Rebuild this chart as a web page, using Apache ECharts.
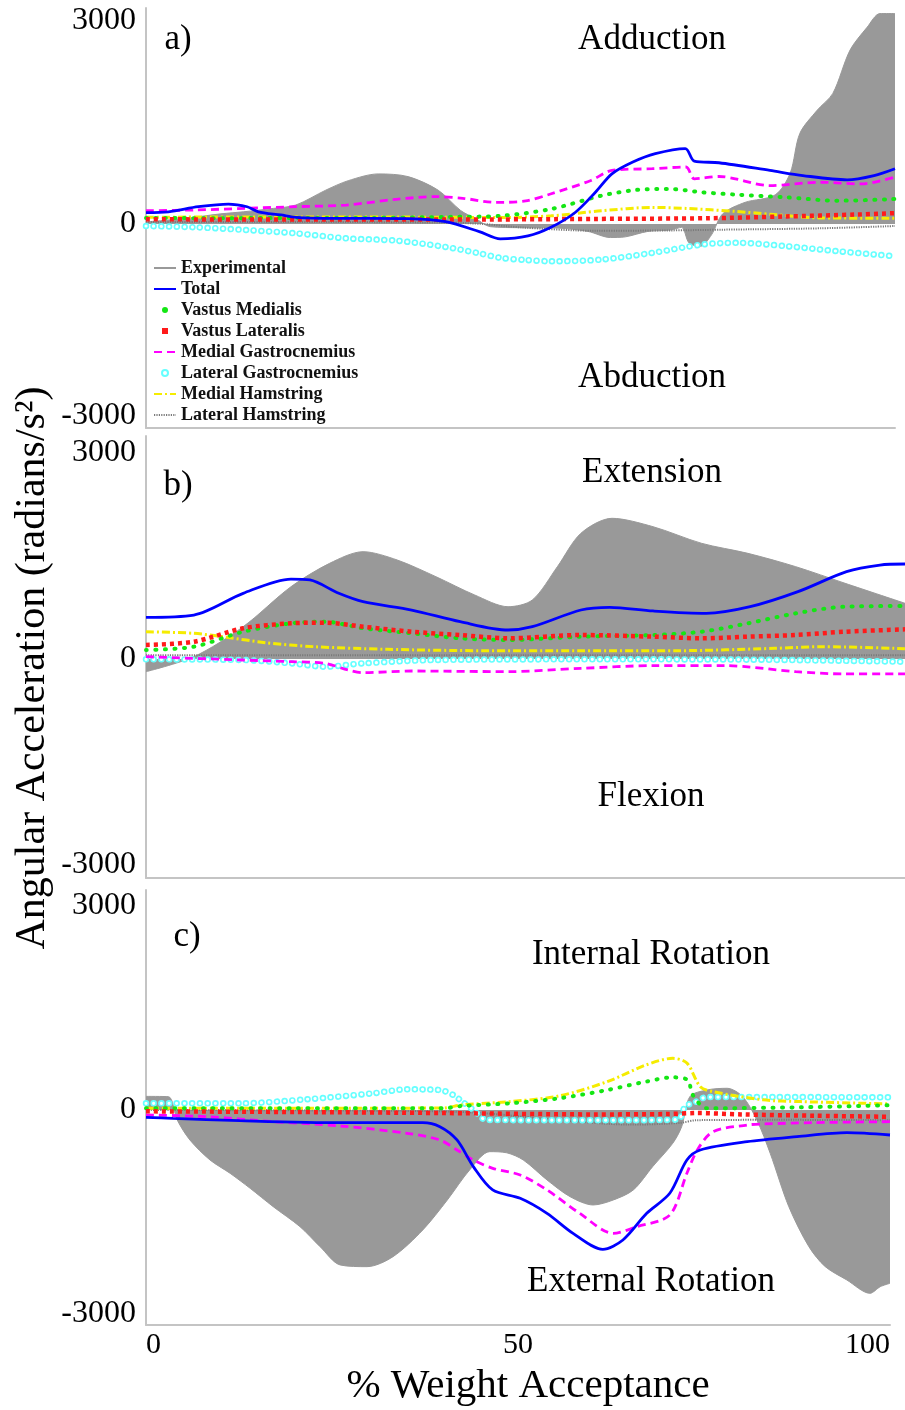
<!DOCTYPE html>
<html>
<head>
<meta charset="utf-8">
<script src="https://cdn.jsdelivr.net/npm/echarts@6/dist/echarts.min.js"></script>
<style>
  html, body { margin: 0; padding: 0; background: #ffffff; }
  #chart { width: 905px; height: 1410px; }
</style>
</head>
<body>
<div id="chart"></div>
<script>
// ---- tick labels and series names ----
const X_TICKS = [0, 50, 100];
const Y_TICKS = [-3000, 0, 3000];
const SERIES_NAMES = ['Experimental', 'Total', 'Vastus Medialis', 'Vastus Lateralis',
  'Medial Gastrocnemius', 'Lateral Gastrocnemius', 'Medial Hamstring', 'Lateral Hamstring'];

// ---- a) adduction / abduction : [% weight acceptance, rad/s^2] ----
const adductionExperimental = [[0,30],[5,80],[10,150],[13,180],[17,230],[20,280],[24,500],[27,640],[31,740],[35,700],[39,500],[42,200],[44,80],[46,-40],[50,-55],[55,-60],[59,-110],[62,-200],[64,-190],[67,-110],[70,-90],[71.5,-50],[72.5,-280],[74,-330],[75.5,-160],[77,150],[80,320],[84,430],[86,750],[87.3,1340],[89.6,1680],[91.7,1930],[94,2570],[96.3,2910],[98,3110],[100,3110]];
const adductionTotal = [[0,167],[3,180],[7,255],[11,295],[13.5,255],[15,180],[18,133],[20,99],[25,84],[30,84],[35,80],[40,35],[44.5,-113],[47.3,-220],[51,-177],[54,-53],[57.3,170],[60,468],[62.2,741],[65,916],[68,1040],[72,1115],[73.2,930],[76.5,905],[83.3,792],[87.7,716],[93.6,653],[97.2,716],[100,817]];
const adductionVM = [[0,90],[10,85],[20,90],[30,90],[40.6,105],[47.3,120],[54.1,222],[60.8,418],[65.3,502],[69.8,518],[74.3,468],[78.8,434],[85.5,394],[92.3,344],[100,369]];
const adductionVL = [[0,70],[20,65],[40,65],[60,75],[75,85],[85,110],[95,140],[100,160]];
const adductionMG = [[0,197],[6.7,207],[13.4,232],[20,256],[26.7,280],[33.4,365],[38.7,404],[42.3,380],[46.7,319],[50.7,340],[54,443],[59.4,643],[62.2,792],[67.6,817],[72.1,842],[73.2,668],[76.5,702],[83.3,567],[90,617],[95.5,592],[100,694]];
const adductionLG = [[0,-30],[6.7,-49],[13.4,-89],[20,-138],[26.7,-212],[33.4,-246],[40,-340],[44.5,-433],[47.3,-500],[50.7,-532],[54.1,-551],[60.8,-526],[67.6,-427],[74.3,-303],[78.8,-278],[85.5,-328],[92.3,-402],[100,-477]];
const adductionMH = [[0,100],[20,105],[40,100],[47.3,95],[54.1,120],[60.8,195],[67.6,245],[72.1,230],[78.8,185],[83.3,145],[90,90],[100,85]];
const adductionLH = [[0,30],[20,30],[40,20],[45,0],[50,-50],[60,-100],[70,-95],[77,-84],[90,-64],[100,-30]];

// ---- b) extension / flexion ----
const extensionExperimental = [[0,-185],[6.3,33],[12.8,470],[19.1,1052],[24.2,1393],[28.6,1562],[33.1,1441],[38.2,1198],[43.3,932],[47.7,761],[50.9,859],[54.2,1344],[57.3,1830],[61.4,2048],[66.8,1926],[73.2,1684],[79.3,1538],[85.6,1344],[92.1,1102],[100,811]];
const extensionTotal = [[0,607],[6.3,640],[12.8,956],[19.1,1164],[21.6,1150],[25.4,956],[28.6,834],[35,713],[41.4,543],[47.7,422],[50.9,470],[57.3,713],[61.1,752],[66.8,699],[73.8,665],[79.6,761],[85.9,980],[92.3,1271],[96.7,1368],[100,1383]];
const extensionVM = [[0,131],[6.3,179],[12.8,397],[19.1,519],[23.6,543],[28.6,447],[35,374],[41.4,301],[47.7,277],[57.3,325],[66.8,349],[73.2,397],[79.3,519],[85.6,665],[92.1,761],[100,771]];
const extensionVL = [[0,204],[6.3,252],[12.8,447],[19.1,519],[23.6,528],[28.6,470],[35,397],[41.4,349],[47.7,301],[57.3,349],[66.8,325],[73.2,301],[79.3,325],[85.6,349],[92.1,397],[100,432]];
const extensionMG = [[0,33],[12.8,-15],[19.1,-39],[23.6,-63],[26.6,-160],[28.6,-199],[35,-175],[47.7,-184],[57.3,-136],[66.8,-97],[76.3,-97],[85.6,-184],[92.1,-218],[100,-218]];
const extensionLG = [[0,-5],[12.8,-15],[19.1,-63],[23.6,-112],[28.6,-63],[38.2,-15],[60,-5],[80,-10],[100,-40]];
const extensionMH = [[0,397],[6.3,374],[10.6,316],[15.8,237],[22.2,179],[31.8,141],[44.5,121],[57.3,121],[70,121],[82.8,155],[89.1,179],[100,150]];
const extensionLH = [[0,55],[25,55],[50,55],[75,55],[100,55]];

// ---- c) internal / external rotation ----
const rotationExperimental = [[0,200],[3,196],[4.2,-147],[5.9,-441],[8.6,-735],[11.3,-931],[14,-1152],[17.1,-1422],[20.7,-1716],[23.4,-2010],[26.1,-2279],[29.7,-2304],[33.2,-2157],[37.2,-1765],[40.5,-1324],[43.5,-882],[46.2,-613],[48.5,-630],[50.7,-735],[53.9,-1029],[57,-1275],[60.1,-1397],[62.8,-1324],[65.5,-1176],[68.1,-833],[70.8,-490],[72,-245],[73.1,196],[75.4,294],[78.1,319],[80.2,196],[82.1,-147],[83.9,-637],[86.4,-1422],[89.1,-2010],[91.3,-2304],[94.2,-2500],[97.3,-2696],[98.7,-2598],[100,-2549]];
const rotationTotal = [[0,-108],[3.6,-123],[12.6,-157],[26.1,-186],[37.2,-186],[39.5,-245],[41.8,-441],[44,-833],[46.6,-1176],[50.3,-1299],[53.9,-1520],[57.4,-1814],[61.4,-2049],[64.1,-1912],[67.3,-1520],[70.4,-1225],[72.7,-735],[74.5,-588],[80.8,-466],[87.5,-392],[94.2,-333],[100,-368]];
const rotationVM = [[0,25],[20,25],[40,25],[42.4,59],[48.9,98],[55.5,172],[62,294],[67.2,417],[70.8,480],[72.8,441],[73.5,220],[75.4,25],[88,40],[100,70]];
const rotationVL = [[0,-20],[20,-30],[40,-45],[60,-65],[70,-60],[74,-45],[80,-65],[90,-85],[100,-100]];
const rotationMG = [[0,-74],[8.2,-98],[17.1,-172],[26.1,-235],[35.1,-343],[39.5,-441],[41.8,-588],[44,-735],[46.6,-858],[50.3,-956],[53.9,-1176],[58.3,-1520],[62.8,-1814],[66,-1716],[70.4,-1544],[72.7,-931],[74.1,-588],[76.2,-319],[80.8,-221],[82.9,-206],[89.7,-186],[100,-172]];
const rotationLG = [[0,98],[12.6,98],[21.6,157],[30.5,245],[35.1,304],[39.5,294],[41.3,220],[42.5,123],[44,0],[45.8,-147],[55,-150],[65,-150],[71.5,-140],[72.5,60],[73.5,98],[75.4,190],[85,190],[100,186]];
const rotationMH = [[0,25],[20,25],[40,30],[42.4,74],[48.9,123],[55.5,206],[62,417],[67.2,662],[70.8,760],[72.7,690],[74.5,343],[76.2,270],[82.9,150],[88,123],[100,90]];
const rotationLH = [[0,0],[20,-5],[40,-20],[45.7,-50],[55.5,-147],[65.2,-215],[71.8,-190],[74,-150],[85,-145],[100,-150]];

// ---- panel layout ----
const SERIF = "'Liberation Serif', 'Times New Roman', serif";
const AXIS_GRAY = '#c4c4c4';
const panels = [
  { top: 8,   height: 420, right: 10, min: -3015, max: 3192,
    data: [adductionExperimental, adductionTotal, adductionVM, adductionVL, adductionMG, adductionLG, adductionMH, adductionLH] },
  { top: 436, height: 442, right: 0,  min: -3188, max: 3246,
    data: [extensionExperimental, extensionTotal, extensionVM, extensionVL, extensionMG, extensionLG, extensionMH, extensionLH] },
  { top: 890, height: 435, right: 15, min: -3162, max: 3235,
    data: [rotationExperimental, rotationTotal, rotationVM, rotationVL, rotationMG, rotationLG, rotationMH, rotationLH] }
];

// line look of each muscle trace
const STYLE = {
  'Experimental':          { color: '#999999', width: 1, type: 'solid', area: true },
  'Total':                 { color: '#0000ff', width: 2.8, type: 'solid' },
  'Vastus Medialis':       { color: '#14e614', width: 4, type: [1, 8.5], cap: 'round' },
  'Vastus Lateralis':      { color: '#ff1a1a', width: 4.5, type: [4, 4], cap: 'butt' },
  'Medial Gastrocnemius':  { color: '#ff00ff', width: 2.8, type: [8, 5] },
  'Lateral Gastrocnemius': { color: '#66ffff', width: 6.5, type: [0.1, 7.6], cap: 'round', ring: true },
  'Medial Hamstring':      { color: '#f5ec00', width: 3, type: [8, 3, 2, 3] },
  'Lateral Hamstring':     { color: '#7a7a7a', width: 2, type: [1.2, 1.2] }
};
// drawing order inside each panel (bottom to top)
const DRAW_ORDER = [0, 7, 5, 6, 4, 2, 3, 1];

const grids = [], xAxes = [], yAxes = [], series = [];
panels.forEach(function (p, i) {
  grids.push({ left: 146, right: p.right, top: p.top, height: p.height });
  const last = i === panels.length - 1;
  xAxes.push({
    type: 'value', gridIndex: i, min: 0, max: 100,
    axisLine: { show: true, onZero: false, lineStyle: { color: AXIS_GRAY, width: 2 } },
    axisTick: { show: false },
    splitLine: { show: false },
    axisLabel: last ? {
      show: true, customValues: X_TICKS, margin: 5,
      fontFamily: SERIF, fontSize: 30, color: '#000',
      alignMinLabel: 'left', alignMaxLabel: 'right'
    } : { show: false }
  });
  yAxes.push({
    type: 'value', gridIndex: i, min: p.min, max: p.max,
    axisLine: { show: true, onZero: false, lineStyle: { color: AXIS_GRAY, width: 2 } },
    axisTick: { show: false },
    splitLine: { show: false },
    axisLabel: {
      customValues: Y_TICKS, margin: 10,
      fontFamily: SERIF, fontSize: 32, color: '#000',
      formatter: function (v) {
        // the bottom label of the top panel sits a little above its tick
        return (i === 0 && v === -3000) ? '{lift|-3000}' : String(v);
      },
      rich: { lift: { fontFamily: SERIF, fontSize: 32, color: '#000', padding: [0, 0, 22, 0] } }
    }
  });

  DRAW_ORDER.forEach(function (k) {
    const name = SERIES_NAMES[k];
    const st = STYLE[name];
    const base = {
      type: 'line', name: name, xAxisIndex: i, yAxisIndex: i,
      data: p.data[k], symbol: 'none', smooth: 0.3,
      animation: false, silent: true,
      color: st.color,
      lineStyle: { color: st.color, width: st.width, type: st.type, cap: st.cap || 'butt' }
    };
    if (st.area) base.areaStyle = { color: st.color, opacity: 1 };
    series.push(base);
    if (st.ring) {
      // hollow centres of the open-circle markers
      series.push({
        type: 'line', name: name, xAxisIndex: i, yAxisIndex: i,
        data: p.data[k], symbol: 'none', smooth: 0.3,
        animation: false, silent: true, color: st.color,
        lineStyle: { color: '#ffffff', width: 3.2, type: st.type, cap: 'round' }
      });
    }
  });
});

const SQUARE = 'path://M0,0L10,0L10,10L0,10Z';
const legendData = SERIES_NAMES.map(function (n) {
  if (n === 'Vastus Medialis') return { name: n, icon: 'circle', itemStyle: { color: STYLE[n].color, opacity: 1 } };
  if (n === 'Vastus Lateralis') return { name: n, icon: SQUARE, itemStyle: { color: STYLE[n].color, opacity: 1 } };
  if (n === 'Lateral Gastrocnemius') return { name: n, icon: 'emptyCircle', itemStyle: { color: STYLE[n].color, opacity: 1 } };
  return { name: n };
});

const texts = [
  ['a)', 178, 40], ['Adduction', 652, 40], ['Abduction', 652, 378],
  ['b)', 178, 486], ['Extension', 652, 473], ['Flexion', 651, 797],
  ['c)', 187, 937], ['Internal Rotation', 651, 955], ['External Rotation', 651, 1282]
];
const graphics = texts.map(function (t) {
  return { type: 'text', x: t[1], y: t[2], silent: true,
    style: { text: t[0], fill: '#000', font: '35px ' + SERIF, textAlign: 'center', textVerticalAlign: 'middle' } };
});
graphics.push({ type: 'text', x: 528, y: 1386, silent: true,
  style: { text: '% Weight Acceptance', fill: '#000', font: '41px ' + SERIF, textAlign: 'center', textVerticalAlign: 'middle' } });
graphics.push({ type: 'text', x: 33, y: 668, rotation: Math.PI / 2, silent: true,
  style: { text: 'Angular Acceleration (radians/s²)', fill: '#000', font: '42px ' + SERIF, textAlign: 'center', textVerticalAlign: 'middle' } });

const chart = echarts.init(document.getElementById('chart'), null, { renderer: 'canvas' });
chart.setOption({
  backgroundColor: '#ffffff',
  animation: false,
  grid: grids,
  xAxis: xAxes,
  yAxis: yAxes,
  legend: {
    data: legendData, orient: 'vertical', left: 153, top: 259, padding: 0,
    itemWidth: 22, itemHeight: 6, itemGap: 3, selectedMode: false,
    itemStyle: { opacity: 0 },
    textStyle: { fontFamily: SERIF, fontWeight: 'bold', fontSize: 18, lineHeight: 18, color: '#111' }
  },
  series: series,
  graphic: graphics
});
</script>
</body>
</html>
